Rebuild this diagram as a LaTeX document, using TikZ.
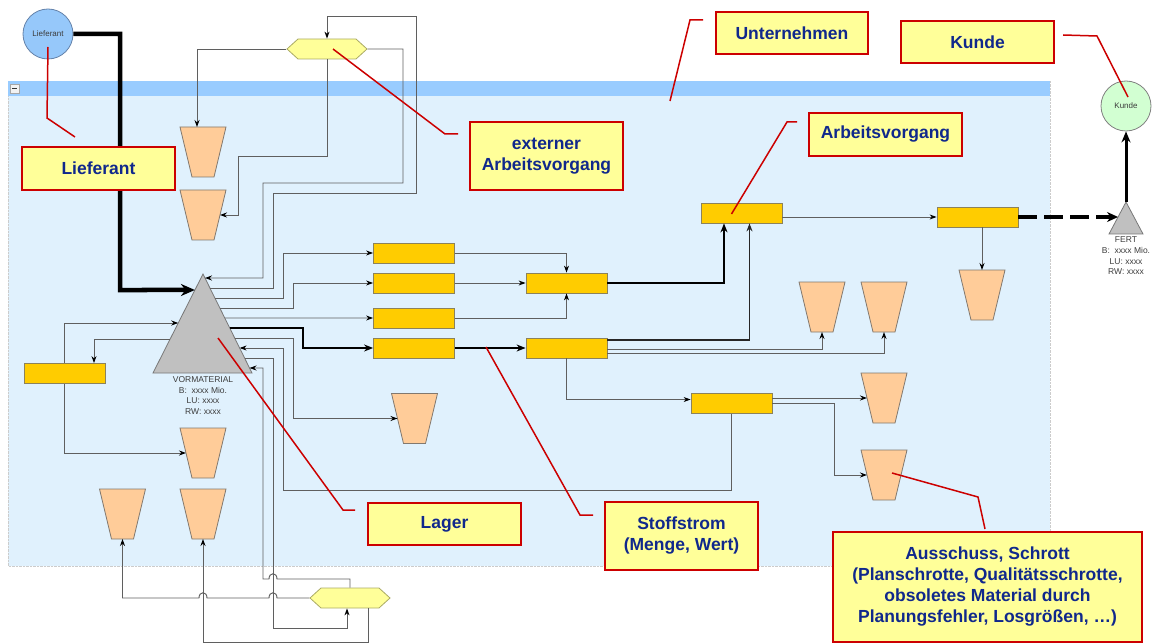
\documentclass[tikz,border=0pt]{standalone}
\usepackage{fontspec}
\setmainfont{Liberation Sans}
\usetikzlibrary{shapes.geometric,shapes.symbols,arrows.meta,calc}
\definecolor{bgblue}{RGB}{224,241,253}
\definecolor{hdrblue}{RGB}{153,204,255}
\definecolor{boxorange}{RGB}{255,204,0}
\definecolor{boxedge}{RGB}{140,130,90}
\definecolor{bucketfill}{RGB}{255,204,153}
\definecolor{bucketedge}{RGB}{130,120,110}
\definecolor{hexfill}{RGB}{255,255,153}
\definecolor{hexedge}{RGB}{170,170,100}
\definecolor{calloutfill}{RGB}{255,255,153}
\definecolor{calloutred}{RGB}{204,0,0}
\definecolor{textblue}{RGB}{16,40,140}
\definecolor{linegray}{RGB}{95,95,95}
\definecolor{trifill}{RGB}{192,192,192}
\definecolor{triedge}{RGB}{120,120,120}
\definecolor{liefblue}{RGB}{150,200,250}
\definecolor{liefedge}{RGB}{100,130,170}
\definecolor{kundegreen}{RGB}{210,255,210}
\definecolor{txtgray}{RGB}{60,60,60}
\tikzset{
  bucketstyle/.style={fill=bucketfill, draw=bucketedge, line width=0.8pt},
  bucket/.pic={
    \path[bucketstyle] (-23,-25) -- (23,-25) -- (11,25) -- (-11,25) -- cycle;
    \coordinate (-n) at (0,-25);
    \coordinate (-s) at (0,25);
    \coordinate (-w) at (-17,0);
    \coordinate (-e) at (17,0);
    \coordinate (-c) at (0,0);
  },
  avbox/.style={rectangle, fill=boxorange, draw=boxedge, line width=0.8pt, minimum width=81pt, minimum height=20pt, inner sep=0pt},
  hexa/.style={signal, signal to=east and west, signal pointer angle=84.5, fill=hexfill, draw=hexedge, line width=0.8pt, minimum width=80pt, minimum height=20pt, inner sep=0pt},
  callout/.style={rectangle, fill=calloutfill, draw=calloutred, line width=2pt, text=textblue, font=\fontsize{17.5}{21}\selectfont\bfseries, align=center, inner sep=0pt},
  lead/.style={draw=calloutred, line width=1.5pt},
  flow/.style={draw=linegray, line width=0.95pt, -{Stealth[length=7pt,width=5pt,color=black]}},
  strong/.style={draw=black, line width=1.8pt, -{Stealth[length=9pt,width=7pt]}},
  medium/.style={draw=black!85, line width=1.3pt, -{Stealth[length=8pt,width=6pt]}},
  smalltxt/.style={font=\fontsize{8.5}{10.7}\selectfont, text=txtgray, align=center, inner sep=0pt},
  trishape/.style={fill=trifill, draw=triedge, line width=0.8pt}
}
\begin{document}
\begin{tikzpicture}[x=1pt,y=-1pt]
\useasboundingbox (0,0) rectangle (1153,644);
% container
\path[fill=bgblue, draw=gray!40, densely dotted] (8,81) rectangle (1050,566);
\path[fill=hdrblue] (8,81) rectangle (1050,96);
\node[draw=gray!70, fill=white!90!gray, minimum size=9pt, inner sep=0pt, line width=0.5pt] (minus) at (14.5,88.5) {};
\draw[line width=1pt, black!80] ($(minus.center)+(-2.5,0)$) -- ($(minus.center)+(2.5,0)$);

% outside circles
\node[circle, fill=liefblue, draw=liefedge, line width=0.8pt, minimum size=50pt, inner sep=0pt, font=\fontsize{8}{9}\selectfont, text=txtgray] (lief) at (48,34) {Lieferant};
\node[circle, fill=kundegreen, draw=gray, line width=0.8pt, minimum size=50pt, inner sep=0pt, font=\fontsize{8}{9}\selectfont, text=txtgray] (kunde) at (1126,106) {Kunde};

% hexagons
\node[hexa] (hexT) at (327,49) {};
\node[hexa] (hexB) at (350,598) {};

% VORMATERIAL triangle
\coordinate (ta) at (203,274);
\coordinate (tl) at (153,373);
\coordinate (tr) at (252,373);
\path[trishape] (ta) -- (tr) -- (tl) -- cycle;
\node[smalltxt] (vmtxt) at (203,395.5) {VORMATERIAL\\B:\ \ xxxx Mio.\\LU: xxxx\\RW: xxxx};
\foreach \yy in {278,288,298,308,318,328,338,348,358,368}{
  \pgfmathsetmacro\tt{(\yy-274)/99}
  \coordinate (r\yy) at ($(ta)!\tt!(tr)$);
}
\foreach \yy in {290,323,339}{
  \pgfmathsetmacro\tt{(\yy-274)/99}
  \coordinate (l\yy) at ($(ta)!\tt!(tl)$);
}

% FERT triangle
\coordinate (fa) at (1126,202);
\coordinate (fbl) at (1109,234);
\coordinate (fbr) at (1143,234);
\path[trishape] (fa) -- (fbr) -- (fbl) -- cycle;
\coordinate (fl) at ($(fa)!{15/32}!(fbl)$);
\node[smalltxt] (ferttxt) at (1126,256) {FERT\\B:\ \ xxxx Mio.\\LU: xxxx\\RW: xxxx};

% buckets
\pic (k1) at (203,152) {bucket};
\pic (k2) at (203,215) {bucket};
\pic (k3) at (203,453) {bucket};
\pic (k4) at (203,514) {bucket};
\pic (k5) at (122.5,514) {bucket};
\pic (k6) at (414.5,418.5) {bucket};
\pic (k7) at (822,307) {bucket};
\pic (k8) at (884,307) {bucket};
\pic (k9) at (982,295) {bucket};
\pic (k10) at (884,398) {bucket};
\pic (k11) at (884,475) {bucket};

% process boxes
\node[avbox] (bL) at (64.5,373.5) {};
\node[avbox] (ca) at (414,253) {};
\node[avbox] (cb) at (414,283) {};
\node[avbox] (cc) at (414,318) {};
\node[avbox] (cd) at (414,348) {};
\node[avbox] (db) at (566.5,283) {};
\node[avbox] (dd) at (566.5,348) {};
\node[avbox] (av) at (741.5,213) {};
\node[avbox] (rb) at (977.5,217) {};
\node[avbox] (lo) at (731.5,403.5) {};

% supply
\coordinate (sup) at (120,290);
\draw[line width=4.5pt, -{Stealth[length=14pt,width=12pt]}] (lief.east) -| (sup) -- (l290);

% connectors around the upper hexagon
\draw[flow] (r288) -| (273,193) -| (416,16) -| (hexT.north);
\draw[flow] (hexT.south) |- (238,156) |- (k2-e);
\draw[flow] (hexT.west) -| ($(k1-n)+(-6,0)$);
\draw[flow] (hexT.east) -| (403,183) -| (263,278) -- (r278);

% triangle outputs
\draw[flow] (r298) -| (283,253) -- (ca.west);
\draw[flow] (r308) -| (293,283) -- (cb.west);
\draw[flow] (r318) -- (cc.west);
\draw[strong] (r328) -| (303,348) -- (cd.west);
\draw[flow] (r338) -| (293,418.5) -- (k6-w);
\draw[flow] (lo.south) |- (283,490) |- (r348);
\coordinate (c628) at (273,628);
\draw[flow] (r358) -| (c628) -| ($(hexB.south)+(-3,0)$);
\draw[flow] (hexB.north) |- (277,579) .. controls (277,572) and (269,572) .. (269,579) -| (263,368) -- (r368);
\draw[flow] (hexB.west) -- (277,598) .. controls (277,591) and (269,591) .. (269,598) -- (207,598) .. controls (207,591) and (199,591) .. (199,598) -| (k5-s);
\draw[flow] ($(hexB.south)+(18,0)$) |- ($(k4-s)+(0,103)$) -- (k4-s);

% left box
\draw[flow] (l339) -| ($(bL.north)+(29.5,0)$);
\draw[flow] (bL.north) |- (l323);
\draw[flow] (bL.south) |- (k3-w);

% column flows
\draw[flow] (ca.east) -| (db.north);
\draw[flow] (cb.east) -- (db.west);
\draw[flow] (cc.east) -| (db.south);
\draw[strong] (cd.east) -- (dd.west);
\draw[line width=2.2pt, -{Stealth[length=9pt,width=7pt]}] (db.east) -| ($(av.south)+(-17.5,0)$);
\draw[medium] ($(dd.east)+(0,-8)$) -| ($(av.south)+(8,0)$);
\draw[flow] ($(dd.east)+(0,1)$) -| (k7-s);
\draw[flow] ($(dd.east)+(0,5)$) -| (k8-s);
\draw[flow] (dd.south) |- ($(lo.west)+(0,-4)$);
\draw[flow] (lo.east |- k10-w) -- (k10-w);
\draw[flow] (lo.east) -- (834,403.5) |- (k11-w);
\draw[flow] (av.east |- rb.west) -- (rb.west);
\draw[flow] (rb.south -| k9-n) -- (k9-n);
\draw[line width=3.5pt, dash pattern=on 19pt off 7pt, -{Stealth[length=11pt,width=10pt]}] (rb.east) -- (fl);
\draw[line width=3pt, -{Stealth[length=11pt,width=9pt]}] (fa) -- (kunde.south);

% leader lines
\draw[lead] ($(lief.center)+(0,13)$) -- (47,118) -- (75,137);
\draw[lead] ($(hexT.center)+(6,0)$) -- (445,134) -- (458,134);
\draw[lead] (670,101) -- (690,20) -- (703,20);
\draw[lead] ($(kunde.center)+(2,-9)$) -- (1097,36) -- (1063,35);
\draw[lead] ($(av.center)+(-10,1)$) -- (787,122) -- (797,122);
\draw[lead] (218,338) -- (343,510) -- (355,510);
\draw[lead] (486,347) -- (580,515) -- (593,515);
\draw[lead] ($(k11-c)+(8,-2)$) -- (978,497) -- (985,529);

% callouts
\node[callout, minimum width=153pt, minimum height=43pt] (cLief) at (98.5,168.5) {Lieferant};
\node[callout, minimum width=153pt, minimum height=68pt] (cExt) at (546.5,156) {externer\\Arbeitsvorgang};
\node[callout, minimum width=152pt, minimum height=42pt] (cUnt) at (792,33) {Unternehmen};
\node[callout, minimum width=153pt, minimum height=42pt] (cKun) at (977.5,42) {Kunde};
\node[callout, minimum width=153pt, minimum height=43pt] (cAV) at (885.5,134.5) {Arbeitsvorgang};
\node[callout, minimum width=153pt, minimum height=42pt] (cLag) at (444.5,524) {Lager};
\node[callout, minimum width=153pt, minimum height=68pt] (cSto) at (681.5,536) {Stoffstrom\\(Menge, Wert)};
\node[callout, minimum width=309pt, minimum height=110pt] (cAus) at (987.5,587) {Ausschuss, Schrott\\(Planschrotte, Qualitätsschrotte,\\obsoletes Material durch\\Planungsfehler, Losgrößen, \dots)};
\end{tikzpicture}
\end{document}
